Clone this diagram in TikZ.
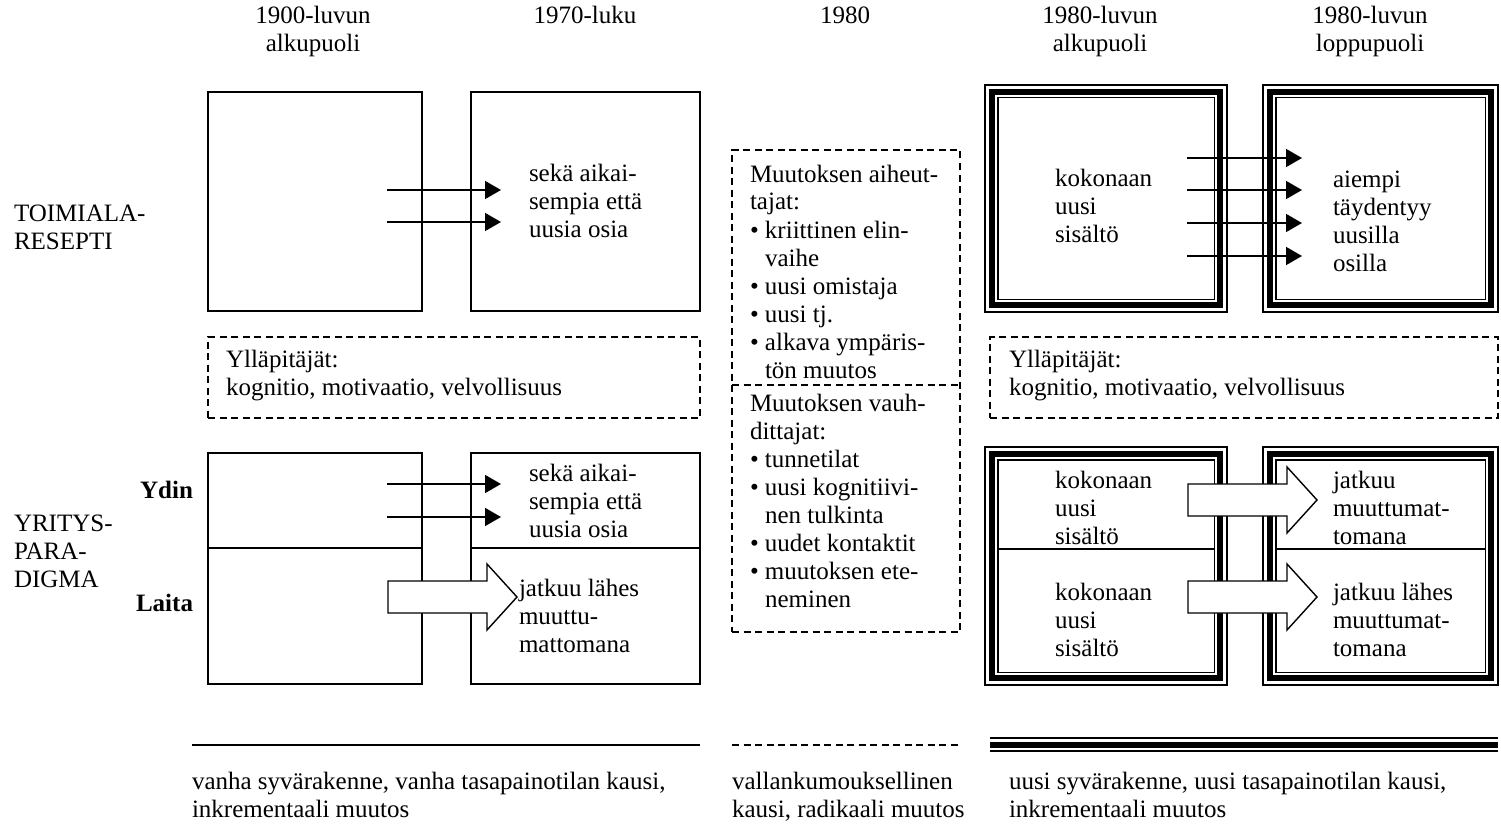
\documentclass[tikz,border=0pt]{standalone}
\usepackage{fontspec}
\setmainfont{Liberation Serif}
\usetikzlibrary{arrows.meta}
% multi-line text blocks whose reference point is the first baseline
\newcommand\txtlines[1]{\begin{tabular}[t]{@{}l@{}}#1\end{tabular}}
\newcommand\ctrlines[1]{\begin{tabular}[t]{@{}c@{}}#1\end{tabular}}
\newcommand\bul{\makebox[15pt][l]{\textbullet}}
\newcommand\cont{\hspace*{15pt}}
% inner thick line and inner thin line of a triple-ruled frame
\newcommand\triframe[1]{%
  \draw[line width=6pt] ([shift={(6.8pt,-6.8pt)}]#1.north west) rectangle ([shift={(-6.8pt,6.8pt)}]#1.south east);
  \draw[line width=1.4pt] ([shift={(12.8pt,-12.8pt)}]#1.north west) rectangle ([shift={(-12.8pt,12.8pt)}]#1.south east);}
% hollow block arrow: left end of shaft at (#1,#2)
\newcommand\blockarrow[2]{%
  \draw[blockarr] (#1,#2-16) -- (#1+99,#2-16) -- (#1+99,#2-33) -- (#1+129,#2)
    -- (#1+99,#2+33) -- (#1+99,#2+16) -- (#1,#2+16) -- cycle;}
\begin{document}
\begin{tikzpicture}[x=1pt,y=-1pt,
  every node/.style={inner sep=0pt, outer sep=0pt, font=\fontsize{25}{28}\selectfont},
  txt/.style={anchor=base west},
  hdr/.style={anchor=base},
  plainbox/.style={draw, line width=1.4pt, rectangle},
  dashbox/.style={draw, line width=1.4pt, rectangle, dash pattern=on 7pt off 4.5pt},
  tribox/.style={draw, line width=1.4pt, rectangle},
  arr/.style={line width=1.6pt, -{Triangle[length=16pt,width=18pt]}},
  blockarr/.style={line width=1.4pt, fill=white, line join=miter},
  divider/.style={line width=1.4pt}]
\useasboundingbox (0,0) rectangle (1501,824);
\fill[white] (0,0) rectangle (1501,824);

% column headings
\node[hdr] (h1) at (313,24) {\ctrlines{1900-luvun\\alkupuoli}};
\node[hdr] (h2) at (585,24) {1970-luku};
\node[hdr] (h3) at (845,24) {1980};
\node[hdr] (h4) at (1100,24) {\ctrlines{1980-luvun\\alkupuoli}};
\node[hdr] (h5) at (1370,24) {\ctrlines{1980-luvun\\loppupuoli}};

% row headings
\node[txt] (r1) at (14,221) {\txtlines{TOIMIALA-\\RESEPTI}};
\node[txt] (r2) at (14,531) {\txtlines{YRITYS-\\PARA-\\DIGMA}};
\node[anchor=base east] (ydin) at (193,498) {\textbf{Ydin}};
\node[anchor=base east] (laita) at (193,611) {\textbf{Laita}};

% left period: plain boxes
\node[plainbox, minimum width=214pt, minimum height=219pt] (a1) at (315,201.5) {};
\node[plainbox, minimum width=229pt, minimum height=219pt] (b1) at (585.5,201.5) {};
\node[plainbox, minimum width=214pt, minimum height=231pt] (a2) at (315,568.5) {};
\node[plainbox, minimum width=229pt, minimum height=231pt] (b2) at (585.5,568.5) {};
\draw[divider] ([yshift=-95pt]a2.north west) -- ([yshift=-95pt]a2.north east);
\draw[divider] ([yshift=-95pt]b2.north west) -- ([yshift=-95pt]b2.north east);

\node[dashbox, minimum width=492pt, minimum height=81pt] (ml) at (454,377.5) {};
\node[txt] (mlt) at (226,367) {\txtlines{Ylläpitäjät:\\kognitio, motivaatio, velvollisuus}};

\node[txt] (b1t) at (529,181) {\txtlines{sekä aikai-\\sempia että\\uusia osia}};
\node[txt] (b2t) at (529,481) {\txtlines{sekä aikai-\\sempia että\\uusia osia}};
\node[txt] (b2l) at (519,596) {\txtlines{jatkuu lähes\\muuttu-\\mattomana}};

% thin arrows, left period
\coordinate (s1) at (387,190);  \coordinate (e1) at (501,190);
\coordinate (s2) at (387,222);  \coordinate (e2) at (501,222);
\coordinate (s3) at (387,484);  \coordinate (e3) at (501,484);
\coordinate (s4) at (387,517);  \coordinate (e4) at (501,517);
\draw[arr] (s1) -- (e1);
\draw[arr] (s2) -- (e2);
\draw[arr] (s3) -- (e3);
\draw[arr] (s4) -- (e4);
\blockarrow{388}{597}

% middle period: dashed box
\node[dashbox, minimum width=228pt, minimum height=482pt] (mid) at (846,391) {};
\draw[divider, dash pattern=on 7pt off 4.5pt] ([yshift=-235pt]mid.north west) -- ([yshift=-235pt]mid.north east);
\node[txt] (midt1) at (750,182) {\txtlines{Muutoksen aiheut-\\tajat:\\
  \bul kriittinen elin-\\\cont vaihe\\\bul uusi omistaja\\\bul uusi tj.\\
  \bul alkava ympäris-\\\cont tön muutos}};
\node[txt] (midt2) at (750,411) {\txtlines{Muutoksen vauh-\\dittajat:\\
  \bul tunnetilat\\\bul uusi kognitiivi-\\\cont nen tulkinta\\
  \bul uudet kontaktit\\\bul muutoksen ete-\\\cont neminen}};

% right period: triple-ruled boxes
\node[tribox, minimum width=242pt, minimum height=227pt] (c1) at (1106,198.5) {};
\node[tribox, minimum width=235pt, minimum height=227pt] (d1) at (1380.5,198.5) {};
\node[tribox, minimum width=242pt, minimum height=238pt] (c2) at (1106,566) {};
\node[tribox, minimum width=235pt, minimum height=238pt] (d2) at (1380.5,566) {};
\triframe{c1}\triframe{d1}\triframe{c2}\triframe{d2}
\draw[divider] ([shift={(12.8pt,-102pt)}]c2.north west) -- ([shift={(-12.8pt,-102pt)}]c2.north east);
\draw[divider] ([shift={(12.8pt,-102pt)}]d2.north west) -- ([shift={(-12.8pt,-102pt)}]d2.north east);

\node[dashbox, minimum width=508pt, minimum height=81pt] (mr) at (1244,377.5) {};
\node[txt] (mrt) at (1009,367) {\txtlines{Ylläpitäjät:\\kognitio, motivaatio, velvollisuus}};

\node[txt] (c1t) at (1055,186) {\txtlines{kokonaan\\uusi\\sisältö}};
\node[txt] (d1t) at (1333,187) {\txtlines{aiempi\\täydentyy\\uusilla\\osilla}};
\node[txt] (c2t) at (1055,488) {\txtlines{kokonaan\\uusi\\sisältö}};
\node[txt] (c2l) at (1055,600) {\txtlines{kokonaan\\uusi\\sisältö}};
\node[txt] (d2t) at (1333,488) {\txtlines{jatkuu\\muuttumat-\\tomana}};
\node[txt] (d2l) at (1333,600) {\txtlines{jatkuu lähes\\muuttumat-\\tomana}};

\coordinate (s5) at (1187,158);  \coordinate (e5) at (1302,158);
\coordinate (s6) at (1187,190);  \coordinate (e6) at (1302,190);
\coordinate (s7) at (1187,223);  \coordinate (e7) at (1302,223);
\coordinate (s8) at (1187,256);  \coordinate (e8) at (1302,256);
\draw[arr] (s5) -- (e5);
\draw[arr] (s6) -- (e6);
\draw[arr] (s7) -- (e7);
\draw[arr] (s8) -- (e8);
\blockarrow{1188}{500}
\blockarrow{1188}{597}

% period legend
\coordinate (l1a) at (192,745);  \coordinate (l1b) at (700,745);
\coordinate (l2a) at (732,745);  \coordinate (l2b) at (958,745);
\coordinate (l3a) at (990,738);  \coordinate (l3b) at (1498,738);
\draw[line width=1.4pt] (l1a) -- (l1b);
\draw[line width=1.4pt, dash pattern=on 7pt off 4.5pt] (l2a) -- (l2b);
\draw[line width=1.4pt] (l3a) -- (l3b);
\draw[line width=6pt] ([yshift=-6.8pt]l3a) -- ([yshift=-6.8pt]l3b);
\draw[line width=1.4pt] ([yshift=-12.8pt]l3a) -- ([yshift=-12.8pt]l3b);

\node[txt] (p1) at (192,789) {\txtlines{vanha syvärakenne, vanha tasapainotilan kausi,\\inkrementaali muutos}};
\node[txt] (p2) at (732,789) {\txtlines{vallankumouksellinen\\kausi, radikaali muutos}};
\node[txt] (p3) at (1009,789) {\txtlines{uusi syvärakenne, uusi tasapainotilan kausi,\\inkrementaali muutos}};
\end{tikzpicture}
\end{document}
